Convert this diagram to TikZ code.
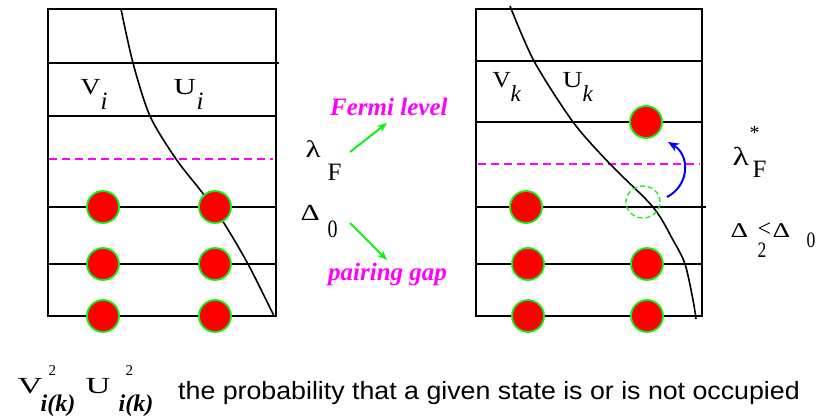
\documentclass[tikz,border=0pt]{standalone}
\usepackage{graphicx}
\usepackage{fontspec}
\setmainfont{Liberation Serif}[
  BoldFont={Liberation Serif Bold},
  ItalicFont={Liberation Serif Italic},
  BoldItalicFont={Liberation Serif Bold Italic}]
\newfontfamily\sansf{Liberation Sans}
\usetikzlibrary{arrows.meta,shapes.geometric}
\definecolor{elgreen}{RGB}{20,240,20}
\definecolor{fermi}{RGB}{255,0,255}
\definecolor{arrblue}{RGB}{0,0,255}
\newcommand{\fsz}[1]{\fontsize{#1}{#1}\selectfont}
% place #3 at horizontal offset #1 and vertical raise #2 from the node's base point
\newcommand{\pc}[3]{\makebox[0pt][l]{\hspace*{#1}\raisebox{#2}{#3}}}
\newcommand{\sx}[2]{\scalebox{#1}[1]{#2}}
\begin{document}
\begin{tikzpicture}[x=1pt,y=-1pt,
 level/.style={line width=1.4pt},
 fermiline/.style={fermi, dash pattern=on 8pt off 5pt, line width=1.3pt},
 electron/.style={circle, fill=red, draw=elgreen, line width=1.8pt, minimum size=32pt, inner sep=0pt},
 hole/.style={ellipse, draw=elgreen, dash pattern=on 5pt off 3pt, line width=1.3pt, minimum width=34pt, minimum height=32pt, inner sep=0pt},
 lbl/.style={inner sep=0pt, anchor=base west},
 note/.style={font=\fsz{25}\bfseries\itshape, text=fermi, inner sep=0pt, anchor=base west},
 garrow/.style={elgreen, line width=2pt, -{Stealth[length=10pt,width=8pt]}},
 barrow/.style={arrblue, line width=2pt, -{Stealth[length=11pt,width=9pt]}},
 vcurve/.style={line width=1.6pt},
]
\useasboundingbox (0,0) rectangle (829,417);
% ---------- left panel ----------
\draw[level] (48,9) rectangle (276,316);
\draw[level] (48,63) -- (279,63);
\draw[level] (48,116) -- (276,116);
\draw[level] (48,207) -- (276,207);
\draw[level] (48,264) -- (276,264);
\draw[fermiline] (49,159) -- (273,159);
\draw[vcurve] plot[smooth] coordinates {(121,9) (133,63) (150,116) (176,159) (201,191) (222,220) (248,264) (274,316)};
\node[lbl] (vi) at (80,95) {\pc{0pt}{0pt}{\fsz{23}\sx{1.2}{V}}\pc{20pt}{-15pt}{\fsz{25}\itshape i}};
\node[lbl] (ui) at (173,95) {\pc{0pt}{0pt}{\fsz{23}\sx{1.35}{U}}\pc{23pt}{-15pt}{\fsz{25}\itshape i}};
\node[electron] (l1) at (103,207) {};
\node[electron] (l2) at (103,264) {};
\node[electron] (l3) at (103,316) {};
\node[electron] (l4) at (215,207) {};
\node[electron] (l5) at (215,264) {};
\node[electron] (l6) at (215,316) {};
% ---------- middle ----------
\node[note] (fermi) at (330,115) {Fermi level};
\node[note] (gap) at (328,280) {pairing gap};
\node[lbl] (lam) at (305,157) {\pc{0pt}{0pt}{\fsz{24}\sx{1.3}{λ}}\pc{22pt}{-23pt}{\fsz{25}F}};
\node[lbl] (del) at (300,220) {\pc{0pt}{0pt}{\fsz{23}\sx{1.3}{Δ}}\pc{27pt}{-17pt}{\fsz{25}\sx{0.8}{0}}};
\coordinate (lamend) at (350,152);
\coordinate (delend) at (350,223);
\draw[garrow] (lamend) -- (387,123);
\draw[garrow] (delend) -- (387,260);
% ---------- right panel ----------
\draw[level] (476,9) rectangle (702,316);
\draw[level] (476,61) -- (702,61);
\draw[level] (476,122) -- (702,122);
\draw[level] (476,207) -- (706,207);
\draw[level] (476,264) -- (702,264);
\draw[fermiline] (478,164) -- (700,164);
\draw[vcurve] plot[smooth] coordinates {(510,6) (534,61) (573,122) (610,164) (653,207) (673,240) (685,264) (693,300) (696,319)};
\node[lbl] (vk) at (492,88) {\pc{0pt}{0pt}{\fsz{23}\sx{1.1}{V}}\pc{18pt}{-14pt}{\fsz{23}\itshape k}};
\node[lbl] (uk) at (562,88) {\pc{0pt}{0pt}{\fsz{23}\sx{1.2}{U}}\pc{20pt}{-14pt}{\fsz{23}\itshape k}};
\node[electron] (r1) at (526,207) {};
\node[electron] (r2) at (528,264) {};
\node[electron] (r3) at (528,316) {};
\node[electron] (r4) at (646,122) {};
\node[electron] (r5) at (647,264) {};
\node[electron] (r6) at (647,316) {};
\node[hole] (h) at (643,202) {};
\coordinate (bstart) at (667,197);
\coordinate (bend) at (668,142);
\draw[barrow] (bstart) .. controls (690,185) and (690,155) .. (bend);
\node[lbl] (lamk) at (732,165) {\pc{0pt}{0pt}{\fsz{26}\sx{1.3}{λ}}\pc{17pt}{26pt}{\fsz{20}*}\pc{20pt}{-12pt}{\fsz{25}F}};
\node[lbl] (delk) at (730,237) {\pc{0pt}{0pt}{\fsz{21}\sx{1.3}{Δ}}\pc{27pt}{-20pt}{\fsz{22}\sx{0.8}{2}}\pc{27pt}{1pt}{\fsz{24}<}\pc{42pt}{0pt}{\fsz{21}\sx{1.3}{Δ}}\pc{76pt}{-10pt}{\fsz{22}\sx{0.8}{0}}};
% ---------- bottom ----------
\node[lbl] (v2) at (17,393) {\pc{0pt}{0pt}{\fsz{23}\sx{1.5}{V}}\pc{31pt}{18pt}{\fsz{15}2}\pc{23pt}{-18pt}{\fsz{24}\bfseries\itshape i(k)}};
\node[lbl] (u2) at (85,393) {\pc{0pt}{0pt}{\fsz{23}\sx{1.5}{U}}\pc{40pt}{18pt}{\fsz{15}2}\pc{33pt}{-18pt}{\fsz{24}\bfseries\itshape i(k)}};
\node[inner sep=0pt, anchor=base west, font=\sansf\fsz{25}, xscale=1.07] (txt) at (178,399) {the probability that a given state is or is not occupied};
\end{tikzpicture}
\end{document}
